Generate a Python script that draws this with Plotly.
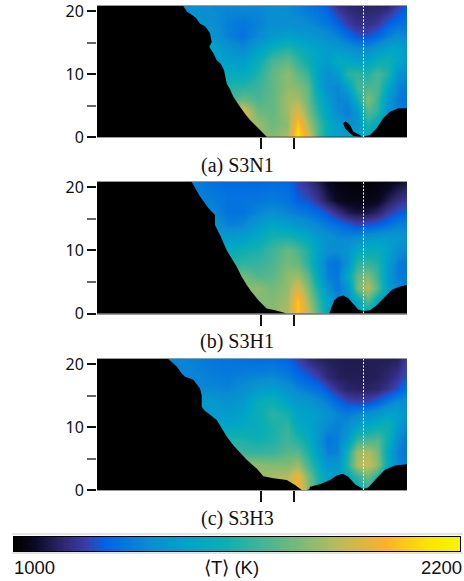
import plotly.graph_objects as go

W, H = 464, 581
x_cols = [70, 85, 100, 115, 130, 145, 160, 175, 190, 200, 210, 220, 230, 240, 250, 260, 270, 280, 290, 300, 310]
y_rows = [0, 2, 4, 6, 8, 10, 12, 14, 16, 18, 20.8]

temp_a = [
    [1700, 1700, 1700, 1700, 1700, 1750, 1800, 1780, 1850, 2120, 1950, 1700, 1520, 1470, 1450, 1500, 1500, 1400, 1400, 1350, 1300],
    [1700, 1700, 1700, 1700, 1750, 1850, 1820, 1740, 1800, 2050, 1850, 1680, 1520, 1450, 1380, 1400, 1600, 1500, 1400, 1350, 1300],
    [1700, 1700, 1700, 1700, 1800, 1950, 1750, 1720, 1830, 1940, 1780, 1620, 1470, 1360, 1320, 1420, 1700, 1620, 1400, 1340, 1300],
    [1600, 1600, 1600, 1600, 1650, 1730, 1680, 1720, 1830, 1840, 1740, 1560, 1430, 1340, 1350, 1560, 1780, 1650, 1420, 1320, 1280],
    [1550, 1550, 1550, 1550, 1600, 1620, 1650, 1720, 1800, 1780, 1720, 1500, 1360, 1340, 1470, 1660, 1680, 1680, 1500, 1340, 1300],
    [1500, 1500, 1500, 1500, 1530, 1520, 1600, 1720, 1800, 1720, 1650, 1470, 1380, 1440, 1620, 1640, 1600, 1680, 1600, 1400, 1350],
    [1450, 1450, 1450, 1450, 1450, 1440, 1540, 1680, 1720, 1640, 1560, 1480, 1440, 1520, 1500, 1470, 1480, 1550, 1560, 1500, 1400],
    [1480, 1480, 1480, 1480, 1400, 1360, 1450, 1560, 1620, 1560, 1510, 1470, 1440, 1430, 1400, 1370, 1370, 1420, 1480, 1480, 1420],
    [1400, 1400, 1400, 1400, 1330, 1290, 1350, 1430, 1450, 1440, 1420, 1400, 1370, 1330, 1270, 1220, 1220, 1260, 1320, 1370, 1350],
    [1380, 1380, 1380, 1380, 1320, 1300, 1330, 1370, 1380, 1370, 1360, 1330, 1300, 1250, 1190, 1160, 1160, 1180, 1240, 1280, 1290],
    [1380, 1380, 1380, 1350, 1350, 1360, 1350, 1370, 1350, 1330, 1300, 1280, 1230, 1160, 1130, 1120, 1120, 1120, 1130, 1190, 1240],
]
temp_b = [
    [1700, 1700, 1700, 1700, 1700, 1700, 1750, 1800, 1850, 2050, 1900, 1700, 1500, 1450, 1400, 1500, 1500, 1400, 1350, 1300, 1300],
    [1700, 1700, 1700, 1700, 1700, 1750, 1780, 1780, 1830, 2050, 1850, 1650, 1470, 1350, 1400, 1500, 1700, 1500, 1400, 1350, 1300],
    [1700, 1700, 1700, 1700, 1750, 1800, 1800, 1750, 1810, 1930, 1780, 1580, 1380, 1300, 1400, 1750, 1870, 1700, 1450, 1350, 1300],
    [1600, 1600, 1600, 1600, 1650, 1750, 1690, 1710, 1800, 1820, 1720, 1500, 1320, 1300, 1500, 1720, 1780, 1650, 1420, 1320, 1300],
    [1550, 1550, 1550, 1550, 1600, 1630, 1640, 1680, 1760, 1730, 1620, 1450, 1310, 1290, 1400, 1620, 1640, 1600, 1440, 1320, 1290],
    [1500, 1500, 1500, 1500, 1520, 1560, 1590, 1660, 1730, 1680, 1600, 1470, 1380, 1360, 1400, 1500, 1520, 1530, 1480, 1380, 1340],
    [1450, 1450, 1450, 1450, 1440, 1450, 1520, 1590, 1600, 1560, 1510, 1430, 1390, 1360, 1350, 1380, 1420, 1430, 1440, 1420, 1380],
    [1400, 1400, 1400, 1400, 1330, 1340, 1430, 1490, 1450, 1410, 1390, 1350, 1310, 1280, 1240, 1210, 1230, 1250, 1280, 1330, 1330],
    [1350, 1350, 1350, 1350, 1290, 1290, 1340, 1370, 1340, 1310, 1290, 1260, 1210, 1150, 1100, 1080, 1090, 1120, 1180, 1220, 1250],
    [1320, 1320, 1320, 1320, 1290, 1290, 1300, 1310, 1290, 1240, 1220, 1170, 1100, 1050, 1035, 1030, 1035, 1045, 1100, 1150, 1180],
    [1320, 1320, 1320, 1280, 1270, 1270, 1260, 1270, 1260, 1200, 1160, 1110, 1050, 1020, 1015, 1010, 1015, 1020, 1030, 1060, 1090],
]
temp_c = [
    [1800, 1800, 1800, 1800, 1800, 1800, 1800, 1850, 1900, 2000, 1800, 1600, 1500, 1450, 1500, 1550, 1600, 1500, 1400, 1350, 1300],
    [1800, 1800, 1800, 1800, 1800, 1800, 1800, 1850, 1860, 1980, 1780, 1600, 1470, 1450, 1520, 1620, 1750, 1580, 1420, 1350, 1300],
    [1800, 1800, 1800, 1800, 1800, 1800, 1800, 1780, 1780, 1820, 1680, 1530, 1400, 1400, 1620, 1850, 1900, 1800, 1520, 1350, 1300],
    [1650, 1650, 1650, 1650, 1650, 1650, 1640, 1650, 1700, 1700, 1600, 1450, 1320, 1330, 1580, 1820, 1850, 1760, 1500, 1330, 1290],
    [1600, 1600, 1600, 1600, 1600, 1600, 1570, 1600, 1660, 1610, 1540, 1400, 1300, 1320, 1450, 1650, 1680, 1700, 1560, 1360, 1290],
    [1500, 1500, 1500, 1500, 1500, 1510, 1530, 1590, 1640, 1520, 1480, 1420, 1350, 1330, 1370, 1480, 1510, 1560, 1570, 1440, 1330],
    [1430, 1430, 1430, 1430, 1430, 1470, 1540, 1620, 1580, 1470, 1460, 1440, 1390, 1340, 1320, 1350, 1380, 1420, 1480, 1460, 1360],
    [1430, 1430, 1430, 1430, 1390, 1430, 1540, 1570, 1480, 1430, 1410, 1370, 1320, 1260, 1210, 1200, 1210, 1250, 1310, 1370, 1370],
    [1350, 1350, 1350, 1350, 1340, 1370, 1430, 1450, 1400, 1340, 1310, 1280, 1220, 1160, 1125, 1115, 1120, 1130, 1170, 1220, 1300],
    [1340, 1340, 1340, 1320, 1310, 1330, 1340, 1350, 1320, 1270, 1240, 1200, 1140, 1110, 1105, 1105, 1105, 1110, 1130, 1170, 1230],
    [1340, 1340, 1320, 1300, 1290, 1280, 1270, 1270, 1250, 1200, 1150, 1120, 1105, 1105, 1100, 1100, 1105, 1105, 1105, 1110, 1200],
]

ground_a_x = [0, 86.3, 90, 94.7, 99, 103, 108, 113, 114.7, 112.3, 116, 119.7, 124, 127, 129.7, 133, 136.3, 143, 148, 153, 161.3, 169.7, 266.3, 273, 279.7, 286.3, 293, 301.3, 310, 310, 0]
ground_a_y = [20.8, 20.8, 19.9, 19.4, 18.9, 18.0, 17.6, 16.5, 15.1, 14.3, 13.4, 12.2, 11.6, 10.6, 8.5, 7.6, 6.4, 4.8, 3.7, 2.7, 1.4, 0.05, 0.05, 0.3, 1.4, 3, 4, 4.55, 4.55, 0, 0]
blob_a_x = [246.3, 248.7, 253, 256.3, 263, 264.7, 256.3, 251.3, 248, 246.3]
blob_a_y = [2.2, 2.5, 1.9, 0.85, 0.3, 0.05, 0.15, 0.85, 1.4, 2.2]
ground_b_x = [0, 94.7, 103, 111.3, 118, 118, 123, 129.7, 134.7, 139.7, 144.7, 149.7, 154.7, 161.3, 169.7, 178, 186.3, 189.7, 232.3, 234.7, 237.3, 241.3, 246.3, 251.3, 256.3, 261.3, 266.3, 273, 279.7, 288, 294.7, 301.3, 310, 310, 0]
ground_b_y = [20.8, 20.8, 18.5, 16.7, 15.6, 14, 12.4, 10, 8.7, 7.4, 5.8, 4.5, 3.4, 2.1, 0.8, 0.5, 0.15, 0, 0, 1.05, 2.1, 2.65, 2.85, 2.4, 1.5, 0.65, 0.4, 0.5, 1.3, 2.65, 3.7, 4.2, 4.5, 0, 0]
ground_c_x = [0, 71.3, 79.7, 84.7, 88, 96.3, 103, 104.7, 104.7, 107, 119.7, 129.7, 136.3, 149.7, 159.7, 166.3, 176.3, 189.7, 198, 204.7, 209.7, 212.3, 213, 223, 233, 239.7, 245.7, 251.3, 258, 266.3, 271.3, 279.7, 288, 298, 310, 310, 0]
ground_c_y = [20.8, 20.8, 19.6, 18.5, 18, 17.5, 16.1, 15, 13.2, 12.7, 11.1, 8.5, 7.1, 4.8, 3.4, 2.2, 1.85, 1.6, 0.8, 0, 0, 0.1, 0.5, 0.9, 1.6, 2.3, 2.6, 2.1, 0.9, 0.15, 0.4, 1.85, 3.2, 3.9, 4.1, 0, 0]

y_major = [0, 10, 20]
y_minor = [5, 15]
x_ticks = [164, 197]
probe_x = 266.5
captions = ["(a) S3N1", "(b) S3H1", "(c) S3H3"]
scale_values = [1000, 1060, 1120, 1192, 1246, 1360, 1480, 1570, 1672, 1744, 1876, 1996, 2116, 2200]
color_stops = [
    [0.0, "#000000"], [0.05, "#0c0a28"], [0.1, "#2a2465"], [0.16, "#3c3ca8"], [0.205, "#0064e6"],
    [0.3, "#0a8cd2"], [0.4, "#00a5c8"], [0.475, "#0fafb0"], [0.56, "#46b496"], [0.62, "#6eb97d"],
    [0.73, "#bebb5a"], [0.83, "#fab02d"], [0.93, "#fae600"], [1.0, "#f5f500"],
]

panels = [
    (temp_a, ground_a_x, ground_a_y, 6, 137),
    (temp_b, ground_b_x, ground_b_y, 182, 313.5),
    (temp_c, ground_c_x, ground_c_y, 359, 490),
]
cap_y = [165, 341, 518]

fig = go.Figure()
layout = {}
annos = []
shapes = []
for i, (z, gx, gy, top, bot) in enumerate(panels):
    s = "" if i == 0 else str(i + 1)
    fig.add_trace(go.Heatmap(x=x_cols, y=y_rows, z=z, coloraxis="coloraxis", zsmooth="best",
                             xaxis="x" + s, yaxis="y" + s, hoverinfo="skip"))
    fig.add_trace(go.Scatter(x=gx, y=gy, fill="toself", fillcolor="#000000", mode="none",
                             xaxis="x" + s, yaxis="y" + s, hoverinfo="skip", showlegend=False))
    if i == 0:
        fig.add_trace(go.Scatter(x=blob_a_x, y=blob_a_y, fill="toself", fillcolor="#000000", mode="none",
                                 xaxis="x", yaxis="y", hoverinfo="skip", showlegend=False))
    layout["xaxis" + s] = dict(
        domain=[97 / W, 407 / W], range=[0, 310], anchor="y" + s, tickmode="array", tickvals=x_ticks,
        ticktext=["", ""], ticks="outside", ticklen=11, tickwidth=1.5, tickcolor="#111111", showgrid=False,
        zeroline=False, showline=True, linecolor="#9a9a9a", linewidth=1, mirror=True, automargin=False,
    )
    layout["yaxis" + s] = dict(
        domain=[1 - bot / H, 1 - top / H], range=[0, 20.8], anchor="x" + s, tickmode="array", tickvals=y_major,
        ticks="outside", ticklen=9, tickwidth=1.5, tickcolor="#111111", showgrid=False, zeroline=False, automargin=False,
        showline=False, tickfont=dict(family="Noto Sans", size=16, color="#111111"), ticklabeloverflow="allow",
        minor=dict(tickmode="array", tickvals=y_minor, ticks="outside", ticklen=9, tickwidth=1.5, tickcolor="#666666", showgrid=False),
    )
    shapes.append(dict(type="line", xref="x" + s, yref="y" + s, x0=probe_x, x1=probe_x, y0=0, y1=20.8,
                       line=dict(color="#ffffff", width=1, dash="2px,1.5px"), layer="above"))
    annos.append(dict(text=captions[i], xref="paper", yref="paper", x=237 / W, y=1 - cap_y[i] / H, showarrow=False,
                      xanchor="center", yanchor="middle", font=dict(family="Liberation Serif", size=20, color="#111111")))

# Colour strip, drawn as its own one-row heatmap
fig.add_trace(go.Heatmap(x=scale_values, y=[0, 1], z=[scale_values, scale_values], coloraxis="coloraxis",
                         zsmooth="best", xaxis="x4", yaxis="y4", hoverinfo="skip"))
layout["xaxis4"] = dict(domain=[14 / W, 460 / W], range=[1000, 2200], anchor="y4", showticklabels=False, ticks="",
                        showgrid=False, zeroline=False, showline=True, linecolor="#000000", linewidth=1, mirror=True, automargin=False)
layout["yaxis4"] = dict(domain=[1 - 551 / H, 1 - 537 / H], range=[0, 1], anchor="x4", showticklabels=False, ticks="",
                        showgrid=False, zeroline=False, showline=True, linecolor="#000000", linewidth=1, mirror=True, automargin=False)

for py in (534, 553):
    shapes.append(dict(type="line", xref="paper", yref="paper", x0=12 / W, x1=463 / W, y0=1 - py / H, y1=1 - py / H,
                       line=dict(color="#c8c8c8", width=1)))

bar_font = dict(family="Liberation Sans", size=18.5, color="#111111")
for txt, px, anchor in (("1000", 12, "left"), ("⟨T⟩ (K)", 231, "center"), ("2200", 464, "right")):
    annos.append(dict(text=txt, xref="paper", yref="paper", x=px / W, y=1 - 567 / H, showarrow=False,
                      xanchor=anchor, yanchor="middle", font=bar_font, xshift=0))

fig.update_layout(
    width=W, height=H, margin=dict(l=0, r=0, t=0, b=0, autoexpand=False), paper_bgcolor="white", plot_bgcolor="black",
    showlegend=False, annotations=annos, shapes=shapes,
    coloraxis=dict(cmin=1000, cmax=2200, colorscale=color_stops, showscale=False),
    **layout,
)
fig.write_html("out.html", config={"displayModeBar": False},
               post_script="document.documentElement.style.overflow='hidden';document.body.style.margin='0';")
